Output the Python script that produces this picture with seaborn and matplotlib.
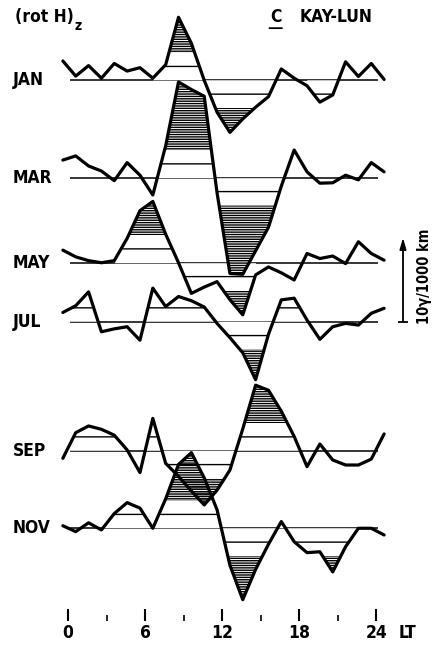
import numpy as np
import pandas as pd
import matplotlib
matplotlib.use("Agg")
import matplotlib.pyplot as plt
import matplotlib.transforms as mtransforms
import seaborn as sns

# Local time of the hourly values (h)
lt = [-0.4, 0.6, 1.6, 2.6, 3.6, 4.6, 5.6, 6.6, 7.6, 8.6, 9.6, 10.6, 11.6,
      12.6, 13.6, 14.6, 15.6, 16.6, 17.6, 18.6, 19.6, 20.6, 21.6, 22.6,
      23.6, 24.6]

months = ["JAN", "MAR", "MAY", "JUL", "SEP", "NOV"]

# (rot H)z departures from the monthly level, gamma / 1000 km
jan = [2.3, 0.5, 1.75, 0.25, 2.0, 1.1, 1.5, 0.25, 1.85, 7.5, 4.4, 0.0, -3.8,
       -6.2, -4.6, -3.2, -1.95, 1.35, 0.25, -0.65, -2.6, -1.75, 2.2, 0.45,
       2.0, 0.1]
mar = [2.1, 2.6, 1.4, 0.8, -0.35, 1.8, 0.3, -2.05, 3.8, 11.4, 10.5, 9.7,
       -1.8, -11.4, -11.5, -8.7, -5.9, -1.0, 3.3, 0.7, -0.65, -0.6, 0.3,
       -0.25, 1.8, 0.7]
may = [1.5, 0.7, 0.25, 0.0, 0.25, 2.9, 6.2, 7.3, 3.4, 0.0, -3.65, -2.9,
       -2.25, -4.4, -6.2, -1.45, -0.5, -1.2, -2.05, 1.1, 0.5, 0.8, -0.1,
       2.5, 1.1, 0.3]
jul = [1.1, 1.9, 3.55, -1.2, -0.85, -0.6, -2.2, 4.0, 1.8, 3.0, 2.5, 1.75,
       -0.2, -1.9, -3.7, -6.9, -1.5, 2.6, 2.8, 0.2, -2.1, -0.6, -0.2, -0.4,
       1.0, 1.6]
sep = [-0.9, 2.15, 2.95, 2.55, 1.85, 0.1, -2.6, 3.85, -1.5, -3.05, -4.8,
       -6.45, -4.7, -2.3, 2.6, 7.8, 7.2, 4.7, 1.7, -1.9, 0.8, -1.1, -1.7,
       -1.7, -1.0, 2.0]
nov = [0.3, -0.4, 0.65, -0.2, 1.75, 3.05, 2.4, 0.0, 3.5, 7.6, 9.0, 6.0,
       2.2, -4.4, -8.5, -4.9, -1.9, 0.8, -1.6, -2.9, -2.8, -5.2, -2.2, 0.0,
       0.0, -0.8]

series = {"JAN": jan, "MAR": mar, "MAY": may, "JUL": jul, "SEP": sep,
          "NOV": nov}

# Time windows (LT) of the marked variations: ruled and densely hatched
ruled = {"JAN": [(7, 16), (19, 21)], "MAR": [(7.5, 17)], "MAY": [(4, 14)],
         "JUL": [(0, 2), (6, 11), (12, 18)], "SEP": [(0.5, 4), (6.5, 18)],
         "NOV": [(3, 6), (7, 23)]}
hatched = {"JAN": [(7, 16)], "MAR": [(7.5, 17)], "MAY": [(4, 14)],
           "JUL": [(12, 16)], "SEP": [(7.5, 17.5)], "NOV": [(7, 23)]}
step1, step2 = 1.65, 3.3

# Vertical position of each month's zero line
row_base = {"JAN": 64.37, "MAR": 52.77, "MAY": 42.65, "JUL": 35.63,
            "SEP": 20.27, "NOV": 11.04}

sns.set_theme(style="white")
plt.rcParams["font.family"] = ["DejaVu Sans"]
plt.rcParams["font.stretch"] = "condensed"
plt.rcParams["text.color"] = "black"
plt.rcParams["xtick.color"] = "black"
plt.rcParams["xtick.labelcolor"] = "black"
plt.rcParams["hatch.linewidth"] = 1.0
plt.rcParams["hatch.color"] = "black"

fig = plt.figure(figsize=(4.4, 6.45), dpi=100)
ax = fig.add_axes([0, 24 / 645, 1, 621 / 645])
ax.set_facecolor("white")

x = np.array(lt)
label_kw = dict(fontsize=12.5, fontweight="bold", color="black",
                fontstretch="condensed")

for m in months:
    d = np.array(series[m], dtype=float)
    b = row_base[m]
    ax.hlines(b, 0.15, 24.15, color="black", lw=1.1, zorder=1)
    ax.text(-4.3, b, m, ha="left", va="center", **label_kw)

    win = np.zeros(len(x), dtype=bool)
    for lo, hi in ruled[m]:
        win |= (x >= lo) & (x <= hi)
    hwin = np.zeros(len(x), dtype=bool)
    for lo, hi in hatched[m]:
        hwin |= (x >= lo) & (x <= hi)

    ax.fill_between(x, b, b + d, where=win, interpolate=True,
                    facecolor="white", lw=0, zorder=2)
    for s in (1, -1):
        ax.fill_between(x, b + s * step1, b + d, where=win & (s * d > step1),
                        interpolate=True, facecolor="none", edgecolor="black",
                        lw=1.0, zorder=3)
        ax.fill_between(x, b + s * step2, b + d, where=hwin & (s * d > step2),
                        interpolate=True, facecolor="none", edgecolor="black",
                        hatch="-------", lw=0, zorder=3)

df = pd.DataFrame({
    "month": np.repeat(months, len(lt)),
    "lt": np.tile(lt, len(months)),
    "rot": np.concatenate([series[m] for m in months]),
})
df["y"] = df["month"].map(row_base) + df["rot"]
sns.lineplot(data=df, x="lt", y="y", units="month", estimator=None,
             sort=False, color="black", lw=2.3, ax=ax, legend=False,
             zorder=5)

# Scale bar: 10 gamma / 1000 km
b_jul = row_base["JUL"]
ax.annotate("", xy=(26.07, b_jul + 10), xytext=(26.07, b_jul),
            arrowprops=dict(arrowstyle="-|>,head_length=0.55,head_width=0.16",
                            color="black", lw=1.3, shrinkA=0, shrinkB=0))
ax.plot([26.07], [b_jul], marker="_", ms=7, mew=1.3, color="black")
ax.text(27.75, 41.0, "10γ/1000 km", rotation=90, ha="center", va="center",
        fontsize=10.5, fontweight="bold", fontstretch="condensed")

# Axis
ax.set_xlim(-5.292, 28.949)
ax.set_ylim(0, 621 / 8.4)
ax.set_xlabel("")
ax.set_ylabel("")
ax.set_yticks([])
ax.set_xticks([0, 6, 12, 18, 24])
ax.set_xticks([3, 9, 15, 21], minor=True)
ax.tick_params(axis="x", which="major", direction="in", length=8.5,
               width=1.5, pad=2, labelsize=12.5, color="black",
               labelcolor="black", bottom=True)
ax.tick_params(axis="x", which="minor", direction="in", length=4.3,
               width=1.2, color="black", bottom=True)
for lbl in ax.get_xticklabels():
    lbl.set_fontweight("bold")
    lbl.set_fontstretch("condensed")
for sp in ax.spines.values():
    sp.set_visible(False)
ax.grid(False)
trans = mtransforms.blended_transform_factory(ax.transData, ax.transAxes)
ax.text(25.7, -0.0048, "LT", transform=trans, ha="left", va="top",
        **label_kw)

# Titles
t1 = fig.text(15 / 440, 1 - 17 / 645, "(rot H)", ha="left", va="center",
              **label_kw)
ax.annotate("z", xy=(1, 0.05), xycoords=t1, xytext=(0.5, -1),
            textcoords="offset points", ha="left", va="center",
            fontsize=10, fontweight="bold", fontstretch="condensed",
            annotation_clip=False)
tc = fig.text(270 / 440, 1 - 17 / 645, "C", ha="left", va="center",
              **label_kw)
ax.annotate("", xy=(1.05, -0.12), xycoords=tc, xytext=(-0.05, -0.12),
            textcoords=tc, annotation_clip=False,
            arrowprops=dict(arrowstyle="-", lw=1.3, color="black",
                            shrinkA=0, shrinkB=0))
fig.text(300 / 440, 1 - 17 / 645, "KAY-LUN", ha="left", va="center",
         **label_kw)

fig.savefig("out.png", dpi=100, facecolor="white")
